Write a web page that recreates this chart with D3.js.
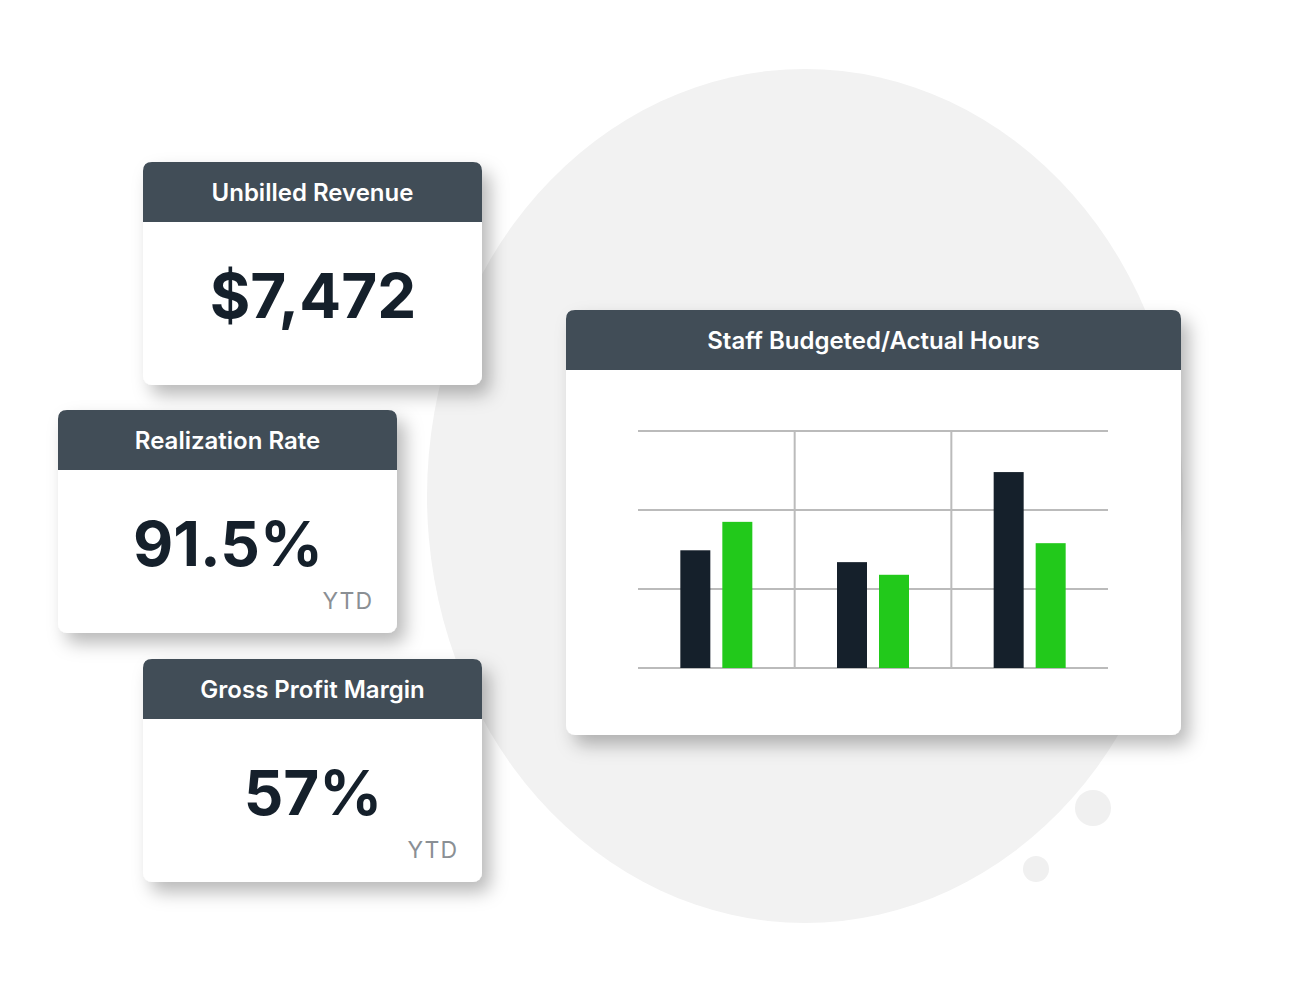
<!DOCTYPE html>
<html><head><meta charset="utf-8">
<script src="https://cdn.jsdelivr.net/npm/d3@7"></script>
<style>body{margin:0;background:#fff;font-family:Inter,"Noto Sans",sans-serif;}</style>
</head><body><div id="chart"></div>
<script>
var categories = ["A", "B", "C"];
var budgeted = [1.49, 1.34, 2.48];
var actual = [1.85, 1.18, 1.58];
var yTicks = [0, 1, 2, 3];
var kpiTitles = ["Unbilled Revenue", "Realization Rate", "Gross Profit Margin"];
var kpiValues = ["$7,472", "91.5%", "57%"];
var kpiNotes = ["", "YTD", "YTD"];

var svg = d3.select("#chart").append("svg").attr("width", 1300).attr("height", 987);
var defs = svg.append("defs");
var f = defs.append("filter").attr("id", "sh").attr("x", "-20%").attr("y", "-20%").attr("width", "150%").attr("height", "150%");
f.append("feDropShadow").attr("dx", 8).attr("dy", 10).attr("stdDeviation", 9).attr("flood-color", "#000").attr("flood-opacity", 0.28);

// background blob
svg.append("ellipse").attr("cx", 805).attr("cy", 496).attr("rx", 378).attr("ry", 427).attr("fill", "#f2f2f2");
svg.append("circle").attr("cx", 1093).attr("cy", 808).attr("r", 18).attr("fill", "#f0f0f0");
svg.append("circle").attr("cx", 1036).attr("cy", 869).attr("r", 13).attr("fill", "#f0f0f0");

function card(x, y, w, h, title) {
  var g = svg.append("g").attr("transform", "translate(" + x + "," + y + ")");
  g.append("rect").attr("width", w).attr("height", h).attr("rx", 9).attr("fill", "#fff").attr("filter", "url(#sh)");
  g.append("path").attr("d", "M0,60 V9 Q0,0 9,0 H" + (w - 9) + " Q" + w + ",0 " + w + ",9 V60 Z").attr("fill", "#414d57");
  g.append("text").attr("x", w / 2).attr("y", 39).attr("text-anchor", "middle")
    .attr("fill", "#fff").attr("font-size", 24).attr("font-weight", 600).text(title);
  return g;
}

var kpiPos = [[143, 162], [58, 410], [143, 659]];
kpiTitles.forEach(function(t, i) {
  var g = card(kpiPos[i][0], kpiPos[i][1], 339, 223, t);
  g.append("text").attr("x", 170).attr("y", 156).attr("text-anchor", "middle")
    .attr("fill", "#15202b").attr("font-size", 62).attr("font-weight", 700).text(kpiValues[i]);
  if (kpiNotes[i]) g.append("text").attr("x", 315).attr("y", 199).attr("text-anchor", "end")
    .attr("fill", "#8a8f94").attr("font-size", 23).attr("letter-spacing", 1).text(kpiNotes[i]);
});

var cg = card(566, 310, 615, 425, "Staff Budgeted/Actual Hours");
var p = cg.append("g").attr("transform", "translate(72,121)");
var W = 470, H = 237;
var x = d3.scaleBand().domain(categories).range([0, W]);
var y = d3.scaleLinear().domain([0, 3]).range([H, 0]);
p.selectAll(".h").data(yTicks).join("line").attr("x1", 0).attr("x2", W)
  .attr("y1", function(d) { return y(d); }).attr("y2", function(d) { return y(d); })
  .attr("stroke", "#bbbbbb").attr("stroke-width", 2);
p.selectAll(".v").data(categories.slice(1)).join("line")
  .attr("x1", function(d) { return x(d); }).attr("x2", function(d) { return x(d); })
  .attr("y1", 0).attr("y2", H).attr("stroke", "#bbbbbb").attr("stroke-width", 2);
var bw = 30;
p.selectAll(".b").data(budgeted).join("rect")
  .attr("x", function(d, i) { return x(categories[i]) + x.bandwidth() / 2 - 36; })
  .attr("y", function(d) { return y(d); }).attr("width", bw)
  .attr("height", function(d) { return H - y(d); }).attr("fill", "#15202b");
p.selectAll(".a").data(actual).join("rect")
  .attr("x", function(d, i) { return x(categories[i]) + x.bandwidth() / 2 + 6; })
  .attr("y", function(d) { return y(d); }).attr("width", bw)
  .attr("height", function(d) { return H - y(d); }).attr("fill", "#22c91b");
</script></body></html>
